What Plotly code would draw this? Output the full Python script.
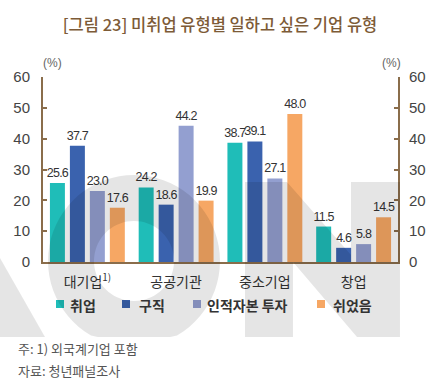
import math
import plotly.graph_objects as go

categories = ["대기업", "공공기관", "중소기업", "창업"]
tick_labels = ["대기업<sup>1)</sup>", "공공기관", "중소기업", "창업"]
series_names = ["취업", "구직", "인적자본 투자", "쉬었음"]
employed = [25.6, 24.2, 38.7, 11.5]
job_seeking = [37.7, 18.6, 39.1, 4.6]
human_capital = [23.0, 44.2, 27.1, 5.8]
resting = [17.6, 19.9, 48.0, 14.5]
series_values = [employed, job_seeking, human_capital, resting]
colors = ["#1fbdb8", "#3a62ae", "#939fd0", "#f6a764"]

W, H = 440, 384
L, R, T, B = 43, 42, 77, 122
PW, PH = W - L - R, H - T - B

def px(x):
    return (x - L) / PW

def py(y):
    return (H - B - y) / PH

BROWN = "#8a6d4b"
KFONT = "Liberation Sans, Noto Sans CJK KR, sans-serif"

fig = go.Figure()
for name, vals, col in zip(series_names, series_values, colors):
    fig.add_trace(go.Bar(
        x=categories, y=vals, name=name, marker=dict(color=col, line=dict(width=0)),
        texttemplate="%{y:.1f}", textposition="outside", cliponaxis=False,
        constraintext="none",
        textfont=dict(size=12.5, color="#333333", family=KFONT),
        showlegend=False,
    ))

axis_common = dict(range=[0, 60], dtick=10, showgrid=False, zeroline=False,
                   showline=True, linecolor=BROWN, linewidth=2,
                   ticks="inside", ticklen=4, tickwidth=1.5, tickcolor=BROWN,
                   tickfont=dict(size=15, color="#444444", family=KFONT),
                   fixedrange=True)

fig.update_layout(
    width=W, height=H,
    margin=dict(l=L, r=R, t=T, b=B),
    paper_bgcolor="white", plot_bgcolor="white",
    barmode="group", bargap=0.1, bargroupgap=0.25,
    font=dict(family=KFONT),
    title=dict(text="[그림 23] 미취업 유형별 일하고 싶은 기업 유형",
               x=0.5, xanchor="center", xref="container",
               y=1 - 25 / H, yanchor="middle", yref="container",
               font=dict(size=16.5, color="#7d5b37", family="Noto Sans CJK KR", weight=500)),
    xaxis=dict(tickvals=categories, ticktext=tick_labels, showline=True,
               linecolor=BROWN, linewidth=2, ticks="", showgrid=False,
               tickfont=dict(size=14, color="#333333", family="Noto Sans CJK KR"),
               ticklabelstandoff=6, fixedrange=True),
    yaxis=dict(**axis_common, ticklabelstandoff=8),
    yaxis2=dict(**axis_common, overlaying="y", side="right", ticklabelstandoff=6),
)

# invisible trace to activate the right axis
fig.add_trace(go.Scatter(x=[categories[0]], y=[0], yaxis="y2", mode="markers",
                         marker=dict(opacity=0), showlegend=False, hoverinfo="skip"))

annotations = [
    dict(text="(%)", x=px(52), y=py(63), xref="paper", yref="paper", showarrow=False,
         xanchor="center", yanchor="middle", font=dict(size=12, color="#666666", family=KFONT)),
    dict(text="(%)", x=px(391), y=py(63), xref="paper", yref="paper", showarrow=False,
         xanchor="center", yanchor="middle", font=dict(size=12, color="#666666", family=KFONT)),
    dict(text="주: 1) 외국계기업 포함", x=px(16), y=py(348), xref="paper", yref="paper",
         showarrow=False, xanchor="left", yanchor="middle",
         font=dict(size=13, color="#555555", family="Noto Sans CJK KR")),
    dict(text="자료: 청년패널조사", x=px(16), y=py(370), xref="paper", yref="paper",
         showarrow=False, xanchor="left", yanchor="middle",
         font=dict(size=13, color="#555555", family="Noto Sans CJK KR")),
]

# manual legend
legend_sq_x = [60, 126, 197, 321]
legend_tx_x = [68, 137, 205, 331]
shapes = []
for name, col, sx, tx in zip(series_names, colors, legend_sq_x, legend_tx_x):
    shapes.append(dict(type="rect", xref="paper", yref="paper",
                       x0=px(sx - 4), x1=px(sx + 4), y0=py(308), y1=py(300),
                       fillcolor=col, line=dict(width=0)))
    annotations.append(dict(text="<b>" + name + "</b>", x=px(tx), y=py(305), xref="paper",
                            yref="paper", showarrow=False, xanchor="left", yanchor="middle",
                            font=dict(size=14, color="#333333", family="Noto Sans CJK KR")))

# background watermark "ON"
WM = "rgba(0,0,0,0.10)"
cx, cy, ro, ri = 134, 261, 86, 40
n = 72
outer = [(cx + ro * math.cos(2 * math.pi * k / n), min(cy + ro * math.sin(2 * math.pi * k / n), 337)) for k in range(n)]
inner = [(cx + ri * math.cos(-2 * math.pi * k / n), cy + ri * math.sin(-2 * math.pi * k / n)) for k in range(n)]

def path_from(pts):
    s = "M%.4f,%.4f" % (px(pts[0][0]), py(pts[0][1]))
    for p in pts[1:]:
        s += " L%.4f,%.4f" % (px(p[0]), py(p[1]))
    return s + " Z"

shapes.append(dict(type="path", xref="paper", yref="paper", layer="above",
                   path=path_from(outer) + " " + path_from(inner),
                   fillcolor=WM, line=dict(width=0)))
npts = [(245, 182), (287, 182), (351, 255), (351, 182), (400, 182), (400, 337),
        (357, 337), (293, 262), (293, 337), (245, 337)]
shapes.append(dict(type="path", xref="paper", yref="paper", layer="above",
                   path=path_from(npts), fillcolor=WM, line=dict(width=0)))
vpts = [(0, 258), (45, 337), (0, 337)]
shapes.append(dict(type="path", xref="paper", yref="paper", layer="above",
                   path=path_from(vpts), fillcolor=WM, line=dict(width=0)))

fig.update_layout(annotations=annotations, shapes=shapes)

post_js = (
    "document.body.style.margin='0';document.body.style.overflow='hidden';"
    "document.querySelectorAll('.bartext, .bartext text, g.points text').forEach(function(t){"
    "t.style.letterSpacing='-0.8px';});"
)
fig.write_html("out.html", config={"displayModeBar": False}, post_script=post_js)
